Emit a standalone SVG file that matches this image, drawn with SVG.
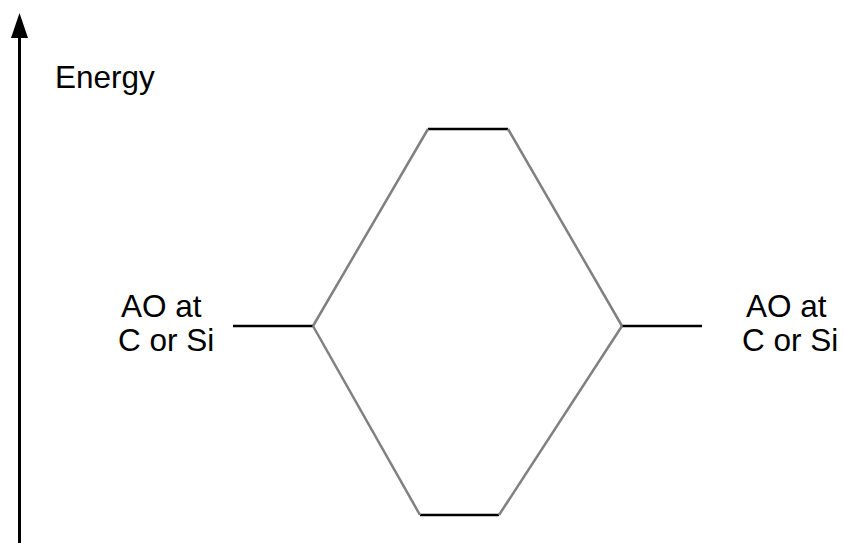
<svg xmlns="http://www.w3.org/2000/svg" width="844" height="543" viewBox="0 0 844 543">
<style>
text{font-family:"Liberation Sans",Arial,sans-serif;font-size:31.5px;fill:#000}
.lvl{stroke:#000;stroke-width:2.5;fill:none}
.corr{stroke:#808080;stroke-width:2.5;fill:none}
</style>
<rect width="844" height="543" fill="#fff"/>
<g id="axis">
<line x1="19.5" y1="543" x2="19.5" y2="34" stroke="#000" stroke-width="3"/>
<polygon points="19.5,13 11,38 28,38" fill="#000"/>
<text x="55" y="88">Energy</text>
</g>
<g id="left-ao">
<line class="lvl" x1="233" y1="326" x2="313" y2="326"/>
<text x="121" y="317">AO at</text>
<text x="118" y="351">C or Si</text>
</g>
<g id="right-ao">
<line class="lvl" x1="622" y1="326" x2="702" y2="326"/>
<text x="746" y="317">AO at</text>
<text x="742" y="351">C or Si</text>
</g>
<g id="antibonding">
<line class="lvl" x1="428" y1="129" x2="508" y2="129"/>
</g>
<g id="bonding">
<line class="lvl" x1="420" y1="515" x2="499" y2="515"/>
</g>
<g id="connectors">
<line class="corr" x1="313" y1="326" x2="428" y2="129"/>
<line class="corr" x1="508" y1="129" x2="622" y2="326"/>
<line class="corr" x1="313" y1="326" x2="420" y2="515"/>
<line class="corr" x1="499" y1="515" x2="622" y2="326"/>
</g>
</svg>
